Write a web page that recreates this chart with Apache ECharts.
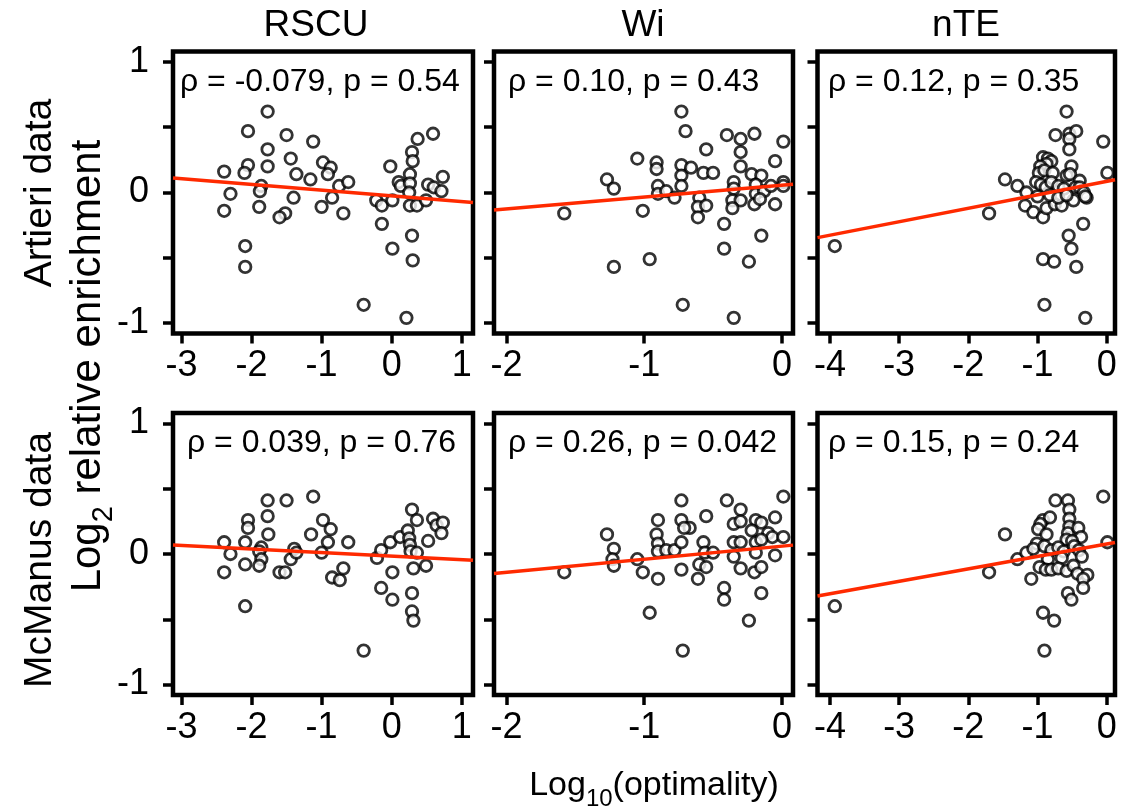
<!DOCTYPE html>
<html><head><meta charset="utf-8">
<script src="https://cdn.jsdelivr.net/npm/echarts@6/dist/echarts.min.js"></script>
<style>html,body{margin:0;padding:0;background:#fff}#c{width:1123px;height:809px}</style>
</head><body><div id="c"></div>
<script>
// ---------- data ----------
const columnTitles = ['RSCU', 'Wi', 'nTE'];
const rowTitles = ['Artieri data', 'McManus data'];
const xRanges = [[-3.12, 1.16], [-2.09, 0.08], [-4.18, 0.12]];
const xTickValues = [[-3, -2, -1, 0, 1], [-2, -1, 0], [-4, -3, -2, -1, 0]];
const yRange = [-1.08, 1.08];
const yTickValues = [-1, -0.5, 0, 0.5, 1];
const yTickLabels = [-1, 0, 1];
const statLabels = [
  'ρ = -0.079, p = 0.54', 'ρ = 0.10, p = 0.43', 'ρ = 0.12, p = 0.35',
  'ρ = 0.039, p = 0.76', 'ρ = 0.26, p = 0.042', 'ρ = 0.15, p = 0.24'
];
const fitSlope = [-0.044, 0.091, 0.103, -0.027, 0.100, 0.095];
const fitIntercept = [-0.026, 0.056, 0.085, -0.016, 0.060, 0.076];

const rscuArtieri = [
  [-1.77,0.62],[-2.05,0.47],[-1.77,0.33],[-1.50,0.44],[-1.12,0.39],[-2.39,0.16],[-2.05,0.21],[-2.10,0.15],
  [-1.77,0.20],[-1.44,0.26],[-1.36,0.14],[-0.98,0.23],[-0.87,0.19],[-0.91,0.14],[-1.16,0.10],[-1.86,0.05],
  [-1.88,0.01],[-2.30,-0.01],[-1.40,-0.04],[-1.89,-0.11],[-2.39,-0.14],[-1.52,-0.16],[-1.60,-0.19],[-1.00,-0.11],
  [-0.85,-0.04],[-0.75,0.05],[-0.62,0.08],[-0.69,-0.16],[-2.09,-0.41],[-2.09,-0.57],[-0.40,-0.86],[0.21,-0.96],
  [-0.02,0.20],[0.37,0.41],[0.59,0.45],[0.29,0.31],[0.30,0.24],[0.26,0.14],[0.10,0.08],[0.13,0.05],
  [0.26,0.07],[0.25,0.00],[-0.22,-0.06],[-0.14,-0.10],[0.01,-0.06],[-0.14,-0.24],[0.26,-0.10],[0.36,-0.10],
  [0.49,-0.06],[0.52,0.06],[0.60,0.04],[0.73,0.12],[0.71,0.01],[0.29,-0.33],[0.01,-0.43],[0.30,-0.52]
];
const wiArtieri = [
  [-0.73,0.62],[-0.70,0.47],[-0.40,0.44],[-0.30,0.41],[-0.20,0.45],[0.01,0.39],[-0.55,0.33],[-0.30,0.31],
  [-1.05,0.26],[-0.91,0.23],[-0.91,0.18],[-0.73,0.21],[-0.73,0.13],[-0.66,0.19],[-0.57,0.15],[-0.50,0.15],
  [-0.30,0.20],[-0.05,0.24],[-1.27,0.10],[-1.22,0.03],[-0.90,0.05],[-0.90,-0.01],[-0.84,0.01],[-0.78,-0.04],
  [-0.73,0.05],[-0.35,0.08],[-0.35,0.03],[-0.22,0.14],[-0.15,0.13],[-0.19,0.06],[-0.19,-0.01],[-0.13,0.01],
  [-0.08,0.05],[0.01,0.08],[0.01,0.05],[-0.60,-0.04],[-0.61,-0.11],[-0.55,-0.10],[-0.61,-0.19],[-0.36,-0.06],
  [-0.30,-0.06],[-0.36,-0.12],[-0.20,-0.09],[-0.16,-0.05],[-0.05,-0.09],[-1.58,-0.16],[-1.01,-0.14],[-0.42,-0.24],
  [-0.15,-0.33],[-0.42,-0.43],[-0.24,-0.53],[-0.96,-0.51],[-1.22,-0.57],[-0.72,-0.86],[-0.35,-0.96]
];
const nteArtieri = [
  [-0.58,0.62],[-0.74,0.44],[-0.54,0.45],[-0.44,0.47],[-0.54,0.41],[-0.54,0.33],[-0.05,0.39],[0.01,0.15],
  [-0.92,0.27],[-0.85,0.26],[-0.80,0.24],[-0.87,0.22],[-0.96,0.20],[-0.98,0.15],[-0.90,0.17],[-0.78,0.15],
  [-0.51,0.20],[-0.58,0.13],[-0.53,0.14],[-0.39,0.09],[-1.47,0.10],[-1.29,0.05],[-1.16,0.00],[-1.02,0.08],
  [-0.95,0.06],[-0.88,0.04],[-0.80,0.08],[-0.70,0.05],[-0.62,0.03],[-0.45,0.04],[-0.39,0.04],[-0.33,0.00],
  [-0.29,-0.04],[-1.18,-0.10],[-1.06,-0.15],[-0.92,-0.19],[-0.87,-0.12],[-0.75,-0.09],[-0.65,-0.10],[-0.48,-0.06],
  [-0.31,-0.03],[-1.00,-0.03],[-0.82,-0.02],[-0.70,-0.04],[-0.58,-0.02],[-1.70,-0.16],[-3.93,-0.41],[-0.34,-0.24],
  [-0.55,-0.33],[-0.51,-0.43],[-0.92,-0.51],[-0.76,-0.53],[-0.44,-0.57],[-0.90,-0.86],[-0.31,-0.96]
];
const rscuMcManus = [
  [-2.39,0.09],[-2.39,-0.14],[-2.30,0.00],[-2.09,0.09],[-2.05,0.26],[-2.05,0.20],[-2.09,-0.08],[-2.09,-0.40],
  [-1.77,0.41],[-1.77,0.29],[-1.76,0.15],[-1.86,0.05],[-1.89,0.02],[-1.86,-0.04],[-1.89,-0.09],[-1.50,0.41],
  [-1.60,-0.14],[-1.52,-0.14],[-1.44,-0.04],[-1.39,0.04],[-1.36,0.01],[-1.12,0.44],[-1.15,0.15],[-0.98,0.26],
  [-0.87,0.19],[-0.91,0.09],[-1.00,0.01],[-0.85,-0.18],[-0.74,-0.20],[-0.69,-0.11],[-0.62,0.09],[-0.40,-0.74],
  [-0.21,-0.03],[-0.15,0.03],[-0.02,0.09],[0.01,-0.14],[-0.15,-0.26],[0.01,-0.35],[0.12,0.13],[0.23,0.18],
  [0.29,0.34],[0.36,0.26],[0.25,0.12],[0.26,0.07],[0.27,0.02],[0.36,0.01],[0.31,-0.11],[0.49,-0.09],
  [0.52,0.10],[0.59,0.27],[0.64,0.22],[0.73,0.24],[0.71,0.16],[0.29,-0.30],[0.29,-0.44],[0.31,-0.51]
];
const wiMcManus = [
  [-0.73,0.41],[-0.40,0.41],[0.01,0.44],[-0.30,0.34],[-0.55,0.29],[-0.05,0.28],[-0.90,0.26],[-0.73,0.26],
  [-0.67,0.20],[-0.71,0.20],[-0.35,0.23],[-0.30,0.25],[-0.19,0.26],[-0.15,0.24],[-0.22,0.18],[-0.10,0.16],
  [-0.07,0.13],[0.01,0.13],[-1.27,0.15],[-1.22,0.04],[-1.23,-0.04],[-1.22,-0.09],[-1.05,-0.04],[-1.01,-0.14],
  [-0.91,0.15],[-0.90,0.08],[-0.90,0.02],[-0.84,0.03],[-0.78,0.03],[-0.73,0.09],[-0.57,0.09],[-0.56,0.01],
  [-0.50,0.01],[-0.35,0.09],[-0.30,0.09],[-0.35,-0.02],[-0.19,0.09],[-0.19,0.01],[-0.15,0.11],[-0.05,-0.01],
  [-0.73,-0.12],[-0.60,-0.08],[-0.55,-0.10],[-0.61,-0.19],[-0.90,-0.19],[-0.30,-0.11],[-0.20,-0.14],[-0.15,-0.10],
  [-0.42,-0.26],[-0.42,-0.35],[-0.15,-0.30],[-0.96,-0.45],[-0.24,-0.51],[-1.58,-0.14],[-0.72,-0.74]
];
const nteMcManus = [
  [-3.93,-0.40],[-1.70,-0.14],[-1.47,0.15],[-1.29,-0.04],[-1.16,0.01],[-1.09,-0.19],[-0.05,0.44],[0.01,0.09],
  [-0.74,0.41],[-0.56,0.41],[-0.54,0.34],[-0.54,0.27],[-0.54,0.21],[-0.56,0.16],[-0.58,0.11],[-0.92,0.26],
  [-0.82,0.28],[-0.96,0.23],[-0.99,0.19],[-0.87,0.15],[-0.41,0.20],[-0.37,0.13],[-1.01,0.08],[-1.06,0.04],
  [-0.90,0.06],[-0.80,0.03],[-0.70,0.05],[-0.62,0.02],[-0.50,0.10],[-0.47,0.06],[-0.40,0.03],[-0.36,-0.02],
  [-0.65,-0.03],[-0.85,-0.04],[-0.97,-0.10],[-0.88,-0.12],[-0.80,-0.12],[-0.70,-0.11],[-0.58,-0.13],[-0.48,-0.09],
  [-0.42,-0.15],[-0.28,-0.16],[-0.34,-0.19],[-0.34,-0.26],[-0.56,-0.30],[-0.51,-0.35],[-0.92,-0.45],[-0.76,-0.51],
  [-0.90,-0.74]
];
const panelData = [rscuArtieri, wiArtieri, nteArtieri, rscuMcManus, wiMcManus, nteMcManus];

// ---------- layout ----------
const FONT = '"Liberation Sans", Arial, Helvetica, sans-serif';
const gridLefts = [173, 494, 817.5];
const gridWidths = [300, 299, 297.5];
const gridTops = [51.5, 413];
const gridHeight = 282;
const statPos = [[180, 82], [508, 82], [828, 82], [187, 443], [508, 443], [828, 443]];

const grids = [], xAxes = [], yAxes = [], series = [], graphics = [];
for (let r = 0; r < 2; r++) {
  for (let c = 0; c < 3; c++) {
    const i = r * 3 + c;
    grids.push({
      left: gridLefts[c], top: gridTops[r], width: gridWidths[c], height: gridHeight,
      show: true, borderColor: '#000', borderWidth: 4.5, backgroundColor: 'transparent', containLabel: false
    });
    xAxes.push({
      type: 'value', gridIndex: i, min: xRanges[c][0], max: xRanges[c][1], position: 'bottom',
      axisLine: { show: false, onZero: false }, splitLine: { show: false },
      axisTick: { show: true, inside: false, length: 10, lineStyle: { color: '#000', width: 3.5 }, customValues: xTickValues[c] },
      axisLabel: { show: true, margin: 15, fontSize: 36, color: '#000', fontFamily: FONT, customValues: xTickValues[c],
        formatter: v => String(v) }
    });
    yAxes.push({
      type: 'value', gridIndex: i, min: yRange[0], max: yRange[1], position: 'left',
      axisLine: { show: false, onZero: false }, splitLine: { show: false },
      axisTick: { show: true, inside: false, length: 10, lineStyle: { color: '#000', width: 3.5 }, customValues: yTickValues },
      axisLabel: { show: c === 0, margin: 24, fontSize: 36, color: '#000', fontFamily: FONT, customValues: yTickLabels,
        formatter: v => String(v) }
    });
    series.push({
      type: 'scatter', xAxisIndex: i, yAxisIndex: i, data: panelData[i],
      symbol: 'circle', symbolSize: 11.5, z: 2,
      itemStyle: { color: '#fff', borderColor: '#000', borderWidth: 2.8 },
      emphasis: { disabled: true }, silent: true
    });
    const x0 = xRanges[c][0], x1 = xRanges[c][1];
    series.push({
      type: 'line', xAxisIndex: i, yAxisIndex: i, symbol: 'none', z: 5, silent: true,
      data: [[x0, fitIntercept[i] + fitSlope[i] * x0], [x1, fitIntercept[i] + fitSlope[i] * x1]],
      lineStyle: { color: '#ff2a00', width: 3.5 }
    });
    graphics.push({
      type: 'text', x: statPos[i][0], y: statPos[i][1], silent: true,
      style: { text: statLabels[i], fontSize: 32, fontFamily: FONT, fill: '#000', textAlign: 'left', textVerticalAlign: 'middle' }
    });
  }
}
const titleX = [316, 643, 966];
columnTitles.forEach((t, c) => graphics.push({
  type: 'text', x: titleX[c], y: 26, silent: true,
  style: { text: t, fontSize: 37, fontFamily: FONT, fill: '#000', textAlign: 'center', textVerticalAlign: 'middle' }
}));
const rowY = [193, 560];
rowTitles.forEach((t, r) => graphics.push({
  type: 'text', x: 40, y: rowY[r], rotation: Math.PI / 2, silent: true,
  style: { text: t, fontSize: 39, fontFamily: FONT, fill: '#000', textAlign: 'center', textVerticalAlign: 'middle' }
}));
graphics.push({
  type: 'text', x: 88, y: 366, rotation: Math.PI / 2, silent: true,
  style: {
    text: '{a|Log}{s|2}{a| relative enrichment}', textAlign: 'center', textVerticalAlign: 'middle',
    rich: {
      a: { fontSize: 42, fontFamily: FONT, fill: '#000', lineHeight: 60, verticalAlign: 'middle' },
      s: { fontSize: 29, fontFamily: FONT, fill: '#000', lineHeight: 60, verticalAlign: 'bottom' }
    }
  }
});
graphics.push({
  type: 'text', x: 654, y: 786, silent: true,
  style: {
    text: '{a|Log}{s|10}{a|(optimality)}', textAlign: 'center', textVerticalAlign: 'middle',
    rich: {
      a: { fontSize: 34, fontFamily: FONT, fill: '#000', lineHeight: 50, verticalAlign: 'middle' },
      s: { fontSize: 24, fontFamily: FONT, fill: '#000', lineHeight: 50, verticalAlign: 'bottom' }
    }
  }
});

const chart = echarts.init(document.getElementById('c'), null, { renderer: 'canvas' });
chart.setOption({
  animation: false, backgroundColor: '#fff',
  grid: grids, xAxis: xAxes, yAxis: yAxes, series: series, graphic: graphics
});
</script></body></html>
